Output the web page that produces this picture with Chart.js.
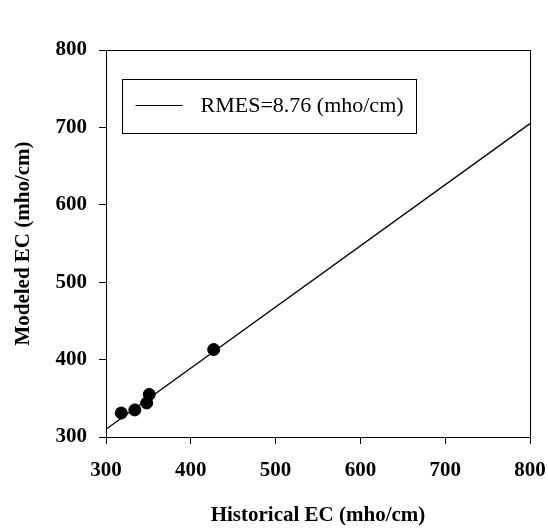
<!DOCTYPE html>
<html>
<head>
<meta charset="utf-8">
<title>Historical vs Modeled EC</title>
<script src="https://cdn.jsdelivr.net/npm/chart.js@4/dist/chart.umd.min.js"></script>
<style>
  html, body { margin: 0; padding: 0; background: #fff; }
  #wrap { width: 548px; height: 530px; }
</style>
</head>
<body>
<div id="wrap"><canvas id="ec-chart" width="548" height="530"></canvas></div>
<script>
'use strict';

// observed vs modeled EC (mho/cm)
var historicalEC = [318, 334, 348, 351, 427];
var modeledEC = [331, 335, 344, 355, 413];

// fitted line end points
var fitX = [300, 800];
var fitY = [310, 705];
var fitLabel = 'RMES=8.76 (mho/cm)';

var axisTicks = [300, 400, 500, 600, 700, 800];

var serif = "'Liberation Serif', 'Times New Roman', serif";

var scatterPts = historicalEC.map(function(x, i) { return {x: x, y: modeledEC[i]}; });
var fitPts = fitX.map(function(x, i) { return {x: x, y: fitY[i]}; });

// frame round the plot + legend box inside it
var framePlugin = {
    id: 'frame',
    afterDraw: function(chart) {
        var ctx = chart.ctx;
        var a = chart.chartArea;
        ctx.save();
        ctx.strokeStyle = '#000';
        ctx.lineWidth = 1;
        ctx.strokeRect(Math.round(a.left) + 0.5, Math.round(a.top) + 0.5,
            Math.round(a.right - a.left), Math.round(a.bottom - a.top));

        var bx = Math.round(a.left) + 16.5, by = Math.round(a.top) + 29.5;
        ctx.fillStyle = '#fff';
        ctx.fillRect(bx, by, 294, 54);
        ctx.strokeRect(bx, by, 294, 54);
        ctx.beginPath();
        ctx.moveTo(bx + 13, by + 26);
        ctx.lineTo(bx + 60, by + 26);
        ctx.lineWidth = 1;
        ctx.stroke();
        ctx.fillStyle = '#000';
        ctx.font = '22px ' + serif;
        ctx.textBaseline = 'middle';
        ctx.fillText(chart.data.datasets[1].label, bx + 78, by + 27);
        ctx.restore();
    }
};

var tickFont = {family: serif, size: 21, weight: 'bold'};

var ctx = document.getElementById('ec-chart').getContext('2d');
var chart = new Chart(ctx, {
    type: 'scatter',
    data: {
        datasets: [
            {
                label: 'Modeled',
                data: scatterPts,
                backgroundColor: '#000',
                borderColor: '#000',
                pointRadius: 6,
                pointHoverRadius: 6
            },
            {
                type: 'line',
                label: fitLabel,
                data: fitPts,
                borderColor: '#000',
                borderWidth: 1.4,
                pointRadius: 0,
                fill: false
            }
        ]
    },
    options: {
        responsive: false,
        animation: false,
        layout: {padding: {top: 50, right: 18, left: 0, bottom: 0}},
        plugins: {
            legend: {display: false},
            tooltip: {enabled: false}
        },
        scales: {
            x: {
                type: 'linear',
                min: axisTicks[0],
                max: axisTicks[axisTicks.length - 1],
                afterBuildTicks: function(scale) {
                    scale.ticks = axisTicks.map(function(v) { return {value: v}; });
                },
                afterFit: function(scale) {
                    scale.height = 93;
                    scale.paddingLeft = 0;
                    scale.paddingRight = 0;
                },
                grid: {drawOnChartArea: false, tickLength: 7, tickColor: '#000', tickWidth: 1},
                border: {color: '#000', width: 1},
                ticks: {color: '#000', font: tickFont, padding: 14, maxRotation: 0},
                title: {
                    display: true,
                    text: 'Historical EC (mho/cm)',
                    color: '#000',
                    font: tickFont,
                    padding: {top: 0, bottom: 2}
                }
            },
            y: {
                type: 'linear',
                min: axisTicks[0],
                max: axisTicks[axisTicks.length - 1],
                afterBuildTicks: function(scale) {
                    scale.ticks = axisTicks.map(function(v) { return {value: v}; });
                },
                afterFit: function(scale) {
                    scale.width = 106;
                    scale.paddingTop = 0;
                    scale.paddingBottom = 0;
                },
                grid: {drawOnChartArea: false, tickLength: 7, tickColor: '#000', tickWidth: 1},
                border: {color: '#000', width: 1},
                ticks: {color: '#000', font: tickFont, padding: 12},
                title: {
                    display: true,
                    text: 'Modeled EC (mho/cm)',
                    color: '#000',
                    font: tickFont,
                    padding: {top: 11, bottom: 0}
                }
            }
        }
    },
    plugins: [framePlugin]
});
</script>
</body>
</html>
